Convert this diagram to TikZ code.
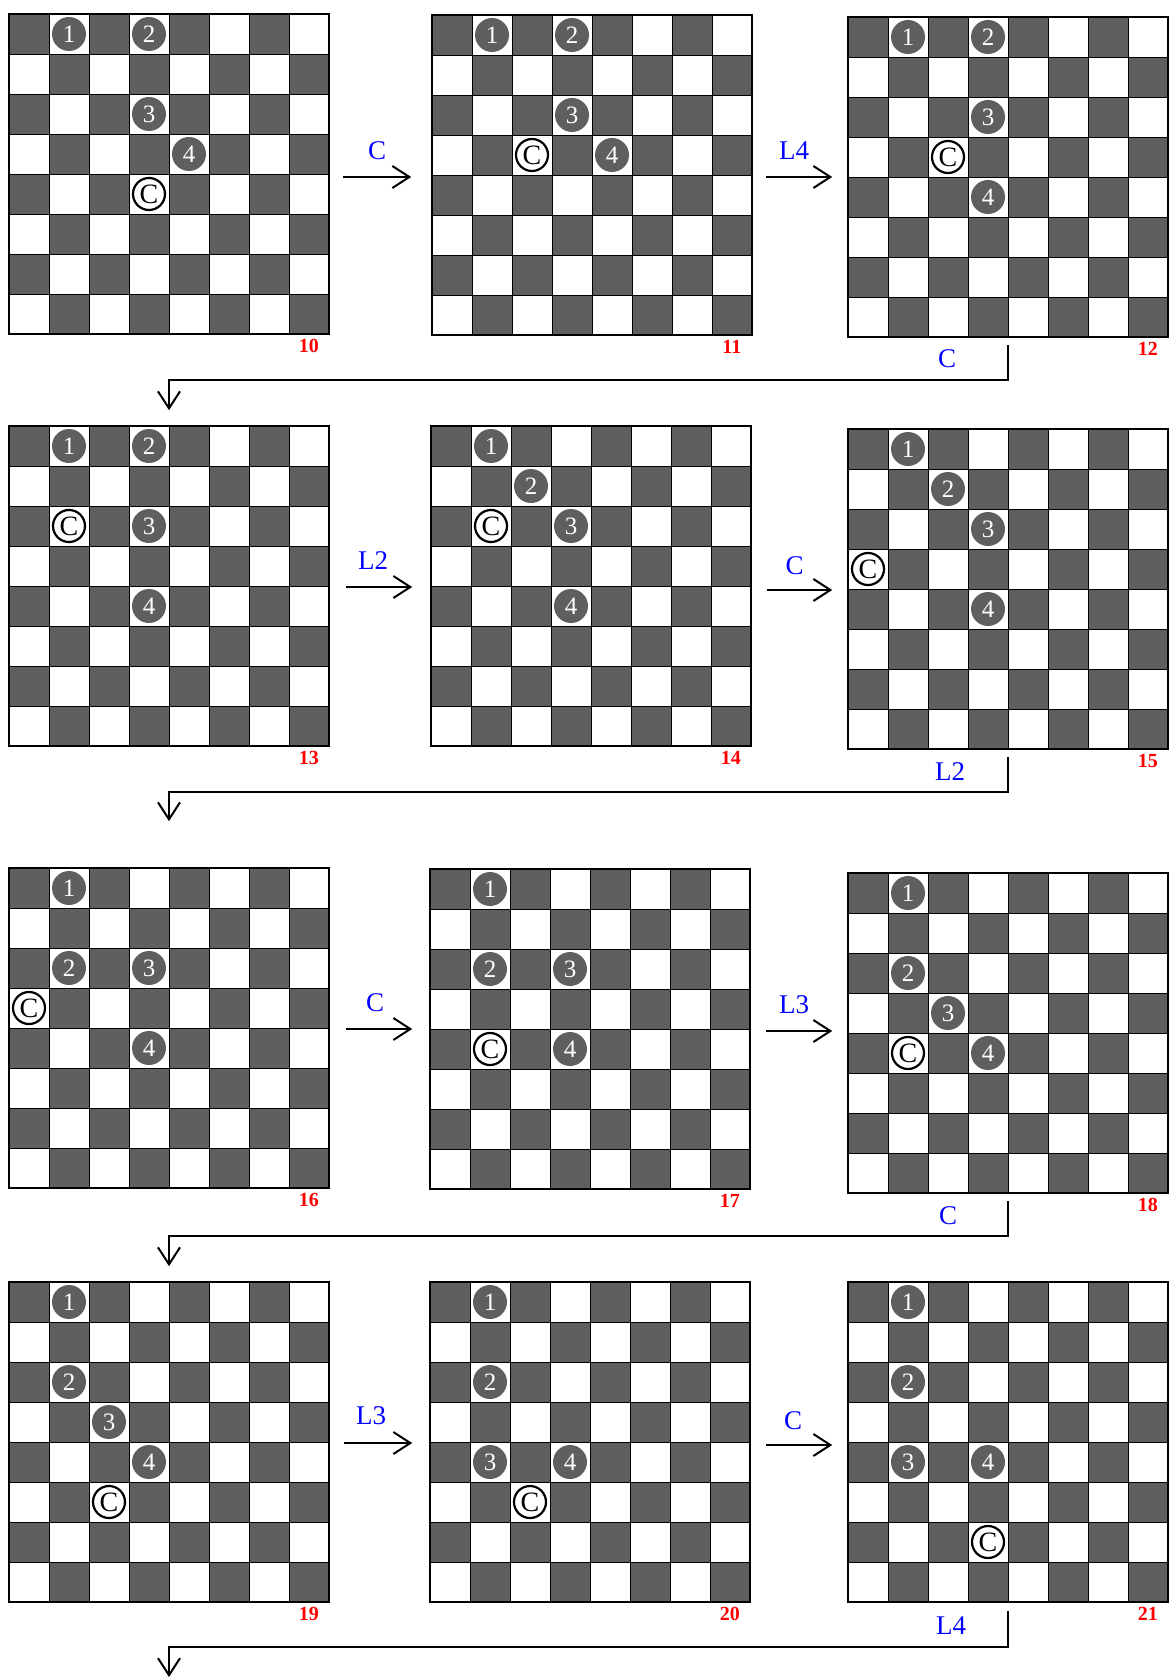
\documentclass[tikz,border=0pt]{standalone}
\usepackage{fontspec}
\setmainfont{Liberation Serif}
\usetikzlibrary{arrows.meta,positioning,calc}
\definecolor{cellgrey}{HTML}{5E605E}
\definecolor{moveblue}{HTML}{0000FF}
\definecolor{tagred}{HTML}{FF0000}

\tikzset{
  piece/.style={circle, fill=cellgrey, text=white, minimum size=34pt, inner sep=0pt, font=\fontsize{25}{25}\selectfont},
  cpiece/.style={circle, draw=black, line width=2.2pt, fill=white, minimum size=32pt, inner sep=0pt, font=\fontsize{28}{28}\selectfont},
  move/.style={-{Straight Barb[length=17pt,width=22pt]}, line width=2pt},
  movetext/.style={text=moveblue, font=\fontsize{27}{27}\selectfont},
  boardtag/.style={text=tagred, font=\fontsize{20}{20}\selectfont\bfseries}
}

% #1 name, #2 top left corner, #3 pieces n/row/col, #4 row/col of C
\newcommand{\chessboard}[4]{%
  \begin{scope}[shift={#2}]
    \fill[white] (0,0) rectangle (320,320);
    \foreach \r in {0,...,7}
      \foreach \c in {0,...,7} {
        \pgfmathtruncatemacro{\cellpar}{mod(\r+\c,2)}
        \ifnum\cellpar=0 \fill[cellgrey] (\c*40,\r*40) rectangle ++(40,40); \fi
      }
    \foreach \k in {1,...,7} {
      \draw[line width=0.8pt] (\k*40,0) -- (\k*40,320);
      \draw[line width=0.8pt] (0,\k*40) -- (320,\k*40);
    }
    \node[draw, line width=1.6pt, minimum size=320pt, inner sep=0pt] (#1) at (160,160) {};
    \foreach \n/\r/\c in {#3}
      \node[piece] (#1-\n) at (\c*40+20,\r*40+20) {\n};
    \foreach \r/\c in {#4}
      \node[cpiece] (#1-c) at (\c*40+20,\r*40+20) {C};
  \end{scope}}

\begin{document}
\begin{tikzpicture}[x=1pt,y=-1pt]
\fill[white] (0,0) rectangle (1169,1677);
\useasboundingbox (0,0) rectangle (1169,1677);

% boards
\chessboard{b10}{(9,14)}{1/0/1,2/0/3,3/2/3,4/3/4}{4/3}
\chessboard{b11}{(432,15)}{1/0/1,2/0/3,3/2/3,4/3/4}{3/2}
\chessboard{b12}{(848,17)}{1/0/1,2/0/3,3/2/3,4/4/3}{3/2}
\chessboard{b13}{(9,426)}{1/0/1,2/0/3,3/2/3,4/4/3}{2/1}
\chessboard{b14}{(431,426)}{1/0/1,2/1/2,3/2/3,4/4/3}{2/1}
\chessboard{b15}{(848,429)}{1/0/1,2/1/2,3/2/3,4/4/3}{3/0}
\chessboard{b16}{(9,868)}{1/0/1,2/2/1,3/2/3,4/4/3}{3/0}
\chessboard{b17}{(430,869)}{1/0/1,2/2/1,3/2/3,4/4/3}{4/1}
\chessboard{b18}{(848,873)}{1/0/1,2/2/1,3/3/2,4/4/3}{4/1}
\chessboard{b19}{(9,1282)}{1/0/1,2/2/1,3/3/2,4/4/3}{5/2}
\chessboard{b20}{(430,1282)}{1/0/1,2/2/1,3/4/1,4/4/3}{5/2}
\chessboard{b21}{(848,1282)}{1/0/1,2/2/1,3/4/1,4/4/3}{6/3}

% board numbers
\foreach \b in {10,...,21}
  \node[boardtag] (t\b) at ([xshift=-21pt,yshift=-11pt]b\b.south east) {\b};

% moves along a row
\draw[move] ([xshift=13pt,yshift=-3pt]b10.east) -- ([xshift=-20pt,yshift=-2pt]b11.west) node[movetext, midway, above=13pt] (m1) {C};
\draw[move] ([xshift=13pt,yshift=-2pt]b11.east) -- ([xshift=-15pt]b12.west) node[movetext, midway, above=13pt, xshift=-5pt] (m2) {L4};
\draw[move] ([xshift=16pt,yshift=-1pt]b13.east) -- ([xshift=-18pt,yshift=-1pt]b14.west) node[movetext, midway, above=13pt, xshift=-6pt] (m4) {L2};
\draw[move] ([xshift=15pt,yshift=-4pt]b14.east) -- ([xshift=-15pt,yshift=-1pt]b15.west) node[movetext, midway, above=11pt, xshift=-5pt] (m5) {C};
\draw[move] ([xshift=16pt,yshift=-1pt]b16.east) -- ([xshift=-17pt]b17.west) node[movetext, midway, above=13pt, xshift=-4pt] (m7) {C};
\draw[move] ([xshift=15pt,yshift=-2pt]b17.east) -- ([xshift=-15pt,yshift=2pt]b18.west) node[movetext, midway, above=13pt, xshift=-5pt] (m8) {L3};
\draw[move] ([xshift=14pt,yshift=-1pt]b19.east) -- ([xshift=-17pt,yshift=-1pt]b20.west) node[movetext, midway, above=14pt, xshift=-7pt] (m10) {L3};
\draw[move] ([xshift=15pt,yshift=-3pt]b20.east) -- ([xshift=-15pt,yshift=-3pt]b21.west) node[movetext, midway, above=11pt, xshift=-6pt] (m11) {C};

% moves to the next row
\coordinate (bnext) at (169,1677);
\draw[move] ([yshift=-7pt]b12.south) -- ([yshift=-42pt]b12.south) node[movetext, anchor=south, xshift=-61pt, yshift=8pt] (m3) {C} -| ([yshift=15pt]b13.north);
\draw[move] ([yshift=-7pt]b15.south) -- ([yshift=-42pt]b15.south) node[movetext, anchor=south, xshift=-58pt, yshift=7pt] (m6) {L2} -| ([yshift=46pt]b16.north);
\draw[move] ([yshift=-7pt]b18.south) -- ([yshift=-42pt]b18.south) node[movetext, anchor=south, xshift=-60pt, yshift=7pt] (m9) {C} -| ([yshift=15pt]b19.north);
\draw[move] ([yshift=-8pt]b21.south) -- ([yshift=-44pt]b21.south) node[movetext, anchor=south, xshift=-57pt, yshift=8pt] (m12) {L4} -| (bnext);
\end{tikzpicture}
\end{document}
